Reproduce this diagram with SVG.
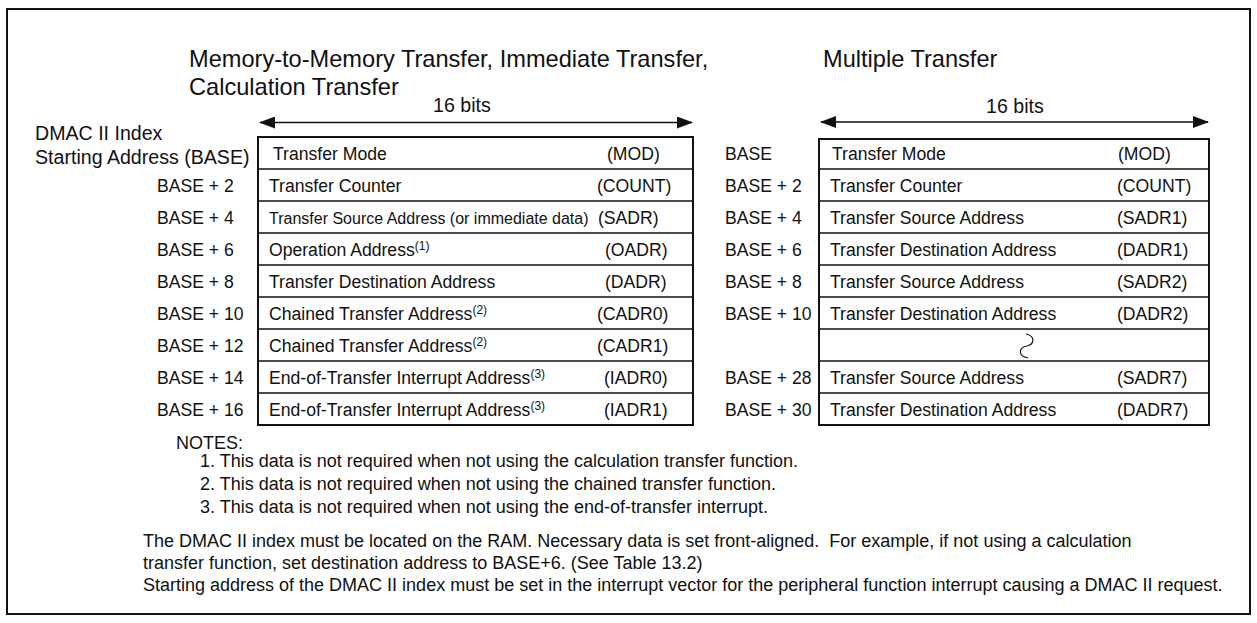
<svg xmlns="http://www.w3.org/2000/svg" width="1257" height="623" viewBox="0 0 1257 623">
<style>
text{font-family:"Liberation Sans",Arial,sans-serif;fill:#111}
.t{font-size:17.6px}
.h{font-size:19.6px}
.ttl{font-size:23.6px}
.n{font-size:18px}
.sup{font-size:12px}
.box{fill:#fff;stroke:#111;stroke-width:2}
.row{stroke:#111;stroke-width:1.6}
.arr{stroke:#111;stroke-width:1.6;fill:none}
</style>
<defs>
<marker id="ah" viewBox="0 0 16 12" refX="15" refY="6" markerWidth="16" markerHeight="12" markerUnits="userSpaceOnUse" orient="auto-start-reverse">
<path d="M0,0 L16,6 L0,12 Z" fill="#111"/>
</marker>
</defs>
<rect x="7" y="9" width="1243" height="605" fill="#fff" stroke="#111" stroke-width="2"/>
<g id="titles">
<text class="ttl" x="189" y="67">Memory-to-Memory Transfer, Immediate Transfer,</text>
<text class="ttl" x="189" y="95">Calculation Transfer</text>
<text class="ttl" x="823" y="67">Multiple Transfer</text>
<text class="h" x="433" y="112">16 bits</text>
<text class="h" x="986" y="113">16 bits</text>
</g>
<g id="connectors">
<line class="arr" x1="260" y1="122.5" x2="692" y2="122.5" marker-start="url(#ah)" marker-end="url(#ah)"/>
<line class="arr" x1="821" y1="122" x2="1208" y2="122" marker-start="url(#ah)" marker-end="url(#ah)"/>
</g>
<g id="left-labels">
<text class="h" x="35" y="140">DMAC II Index</text>
<text class="h" x="35" y="164">Starting Address (BASE)</text>
<text class="t" x="157" y="192">BASE + 2</text>
<text class="t" x="157" y="224">BASE + 4</text>
<text class="t" x="157" y="256">BASE + 6</text>
<text class="t" x="157" y="288">BASE + 8</text>
<text class="t" x="157" y="320">BASE + 10</text>
<text class="t" x="157" y="352">BASE + 12</text>
<text class="t" x="157" y="384">BASE + 14</text>
<text class="t" x="157" y="416">BASE + 16</text>
</g>
<g id="left-table">
<rect class="box" x="258" y="137" width="435" height="288"/>
<line class="row" x1="258" y1="169" x2="693" y2="169"/>
<line class="row" x1="258" y1="201" x2="693" y2="201"/>
<line class="row" x1="258" y1="233" x2="693" y2="233"/>
<line class="row" x1="258" y1="265" x2="693" y2="265"/>
<line class="row" x1="258" y1="297" x2="693" y2="297"/>
<line class="row" x1="258" y1="329" x2="693" y2="329"/>
<line class="row" x1="258" y1="361" x2="693" y2="361"/>
<line class="row" x1="258" y1="393" x2="693" y2="393"/>
<text class="t" x="273" y="160">Transfer Mode</text>
<text class="t" x="607" y="160">(MOD)</text>
<text class="t" x="269" y="192">Transfer Counter</text>
<text class="t" x="597" y="192">(COUNT)</text>
<text x="269" y="224" style="font-size:16px">Transfer Source Address (or immediate data)<tspan class="t" x="598">(SADR)</tspan></text>
<text class="t" x="269" y="256">Operation Address<tspan class="sup" dy="-6">(1)</tspan></text>
<text class="t" x="605" y="256">(OADR)</text>
<text class="t" x="269" y="288">Transfer Destination Address</text>
<text class="t" x="605" y="288">(DADR)</text>
<text class="t" x="269" y="320">Chained Transfer Address<tspan class="sup" dy="-6">(2)</tspan></text>
<text class="t" x="597" y="320">(CADR0)</text>
<text class="t" x="269" y="352">Chained Transfer Address<tspan class="sup" dy="-6">(2)</tspan></text>
<text class="t" x="597" y="352">(CADR1)</text>
<text class="t" x="269" y="384">End-of-Transfer Interrupt Address<tspan class="sup" dy="-6">(3)</tspan></text>
<text class="t" x="604" y="384">(IADR0)</text>
<text class="t" x="269" y="416">End-of-Transfer Interrupt Address<tspan class="sup" dy="-6">(3)</tspan></text>
<text class="t" x="604" y="416">(IADR1)</text>
</g>
<g id="right-labels">
<text class="t" x="725" y="160">BASE</text>
<text class="t" x="725" y="192">BASE + 2</text>
<text class="t" x="725" y="224">BASE + 4</text>
<text class="t" x="725" y="256">BASE + 6</text>
<text class="t" x="725" y="288">BASE + 8</text>
<text class="t" x="725" y="320">BASE + 10</text>
<text class="t" x="725" y="384">BASE + 28</text>
<text class="t" x="725" y="416">BASE + 30</text>
</g>
<g id="right-table">
<rect class="box" x="819" y="139" width="390" height="286"/>
<line class="row" x1="819" y1="169" x2="1209" y2="169"/>
<line class="row" x1="819" y1="201" x2="1209" y2="201"/>
<line class="row" x1="819" y1="233" x2="1209" y2="233"/>
<line class="row" x1="819" y1="265" x2="1209" y2="265"/>
<line class="row" x1="819" y1="297" x2="1209" y2="297"/>
<line class="row" x1="819" y1="329" x2="1209" y2="329"/>
<line class="row" x1="819" y1="361" x2="1209" y2="361"/>
<line class="row" x1="819" y1="393" x2="1209" y2="393"/>
<text class="t" x="832" y="160">Transfer Mode</text>
<text class="t" x="1118" y="160">(MOD)</text>
<text class="t" x="830" y="192">Transfer Counter</text>
<text class="t" x="1117" y="192">(COUNT)</text>
<text class="t" x="830" y="224">Transfer Source Address</text>
<text class="t" x="1117" y="224">(SADR1)</text>
<text class="t" x="830" y="256">Transfer Destination Address</text>
<text class="t" x="1117" y="256">(DADR1)</text>
<text class="t" x="830" y="288">Transfer Source Address</text>
<text class="t" x="1117" y="288">(SADR2)</text>
<text class="t" x="830" y="320">Transfer Destination Address</text>
<text class="t" x="1117" y="320">(DADR2)</text>
<path d="M1026,334 C1035,336 1035,344 1027,346 C1018,348 1018,356 1028,358" fill="none" stroke="#111" stroke-width="1.2"/>
<text class="t" x="830" y="384">Transfer Source Address</text>
<text class="t" x="1117" y="384">(SADR7)</text>
<text class="t" x="830" y="416">Transfer Destination Address</text>
<text class="t" x="1117" y="416">(DADR7)</text>
</g>
<g id="notes">
<text class="n" x="176" y="449">NOTES:</text>
<text class="n" x="200" y="467">1. This data is not required when not using the calculation transfer function.</text>
<text class="n" x="200" y="490">2. This data is not required when not using the chained transfer function.</text>
<text class="n" x="200" y="513">3. This data is not required when not using the end-of-transfer interrupt.</text>
<text class="n" x="143" y="547" xml:space="preserve">The DMAC II index must be located on the RAM. Necessary data is set front-aligned.  For example, if not using a calculation</text>
<text class="n" x="143" y="569">transfer function, set destination address to BASE+6. (See Table 13.2)</text>
<text class="n" x="143" y="591">Starting address of the DMAC II index must be set in the interrupt vector for the peripheral function interrupt causing a DMAC II request.</text>
</g>
</svg>
